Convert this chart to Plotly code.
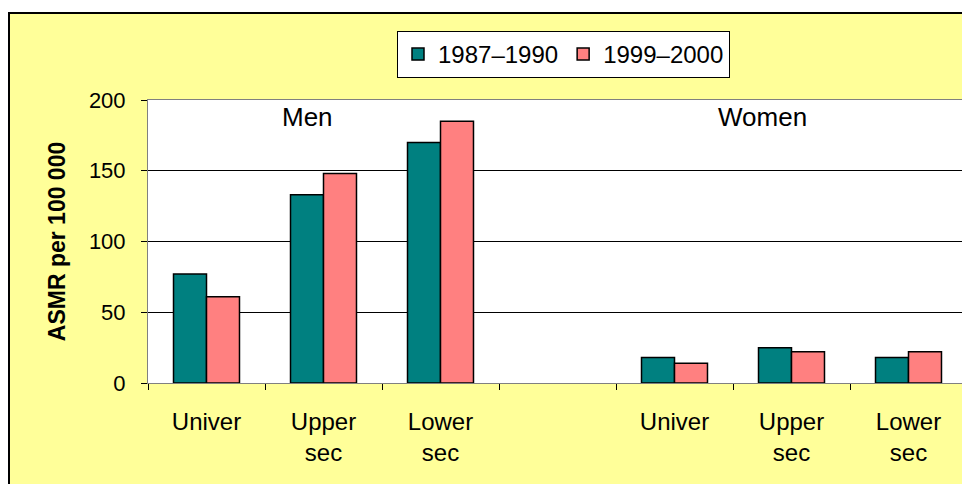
import plotly.graph_objects as go

# ---- data ----
slot_ids = ["M-Univer", "M-Upper", "M-Lower", "gap", "W-Univer", "W-Upper", "W-Lower"]
tick_labels = ["Univer", "Upper<br>sec", "Lower<br>sec", "", "Univer", "Upper<br>sec", "Lower<br>sec"]
series_names = ["1987\u20131990", "1999\u20132000"]
v_1987_1990 = [77, 133, 170, None, 18, 25, 18]
v_1999_2000 = [61, 148, 185, None, 14, 22, 22]
group_labels = ["Men", "Women"]
y_ticks = [0, 50, 100, 150, 200]

TEAL = "#008080"
SALMON = "#FF8080"
YELLOW = "#FFFF99"
FONT = "Arial, Liberation Sans, sans-serif"

fig = go.Figure()
fig.add_trace(go.Bar(x=slot_ids, y=v_1987_1990, name=series_names[0],
                     marker=dict(color=TEAL, line=dict(color="black", width=1.5))))
fig.add_trace(go.Bar(x=slot_ids, y=v_1999_2000, name=series_names[1],
                     marker=dict(color=SALMON, line=dict(color="black", width=1.5))))

# figure sits at (8, 8) in the page (body margin)
OFF = 8
W, H = 970, 484
L, R, T, B = 140, 11, 92, 109
plot_h = H - T - B
plot_w = W - L - R

def px_to_paper_x(px):  # px in page coords
    return (px - OFF - L) / plot_w

def px_to_paper_y(py):
    return (H - B - (py - OFF)) / plot_h

fig.update_layout(
    width=W, height=H,
    margin=dict(l=L, r=R, t=T, b=B, autoexpand=False),
    paper_bgcolor=YELLOW,
    plot_bgcolor="white",
    barmode="group",
    bargap=0.436,
    bargroupgap=0,
    font=dict(family=FONT, size=22, color="black"),
    showlegend=True,
    legend=dict(
        orientation="h",
        x=px_to_paper_x(397), y=px_to_paper_y(31),
        xanchor="left", yanchor="top",
        bgcolor="white", bordercolor="black", borderwidth=1,
        font=dict(size=24),
        itemwidth=30,
        traceorder="normal",
    ),
)

fig.update_xaxes(
    type="category",
    categoryorder="array", categoryarray=slot_ids,
    tickvals=slot_ids, ticktext=tick_labels,
    tickson="boundaries",
    ticks="outside", ticklen=6, tickcolor="black",
    showline=True, linecolor="#808080", linewidth=1, mirror=True,
    showgrid=False,
    tickfont=dict(size=24),
    ticklabelstandoff=17,
    range=[-0.5, 6.5],
)
fig.update_yaxes(
    range=[0, 200],
    tickvals=y_ticks,
    ticks="outside", ticklen=6, tickcolor="black",
    showline=True, linecolor="#808080", linewidth=1, mirror=True,
    showgrid=True, gridcolor="black", gridwidth=1,
    zeroline=True, zerolinecolor="black", zerolinewidth=1,
    tickfont=dict(size=22),
    ticklabelstandoff=11,
    title=dict(text="<b>ASMR per 100 000</b>", font=dict(size=23), standoff=16),
)

# group labels
for label, px in zip(group_labels, [307, 762]):
    fig.add_annotation(text=label, xref="paper", yref="paper",
                       x=px_to_paper_x(px), y=px_to_paper_y(117),
                       showarrow=False, font=dict(size=26), xanchor="center", yanchor="middle")

# white strip above the chart frame and the frame border
fx = px_to_paper_x(9)
fy = px_to_paper_y(13)
fig.add_shape(type="rect", xref="paper", yref="paper", x0=-0.25, x1=1.2, y0=fy, y1=1.5,
              fillcolor="white", line=dict(width=0), layer="above")
fig.add_shape(type="path", xref="paper", yref="paper",
              path=f"M {fx},-0.5 L {fx},{fy} L 1.2,{fy}",
              line=dict(color="black", width=2), layer="above")

fig.write_html("out.html")
